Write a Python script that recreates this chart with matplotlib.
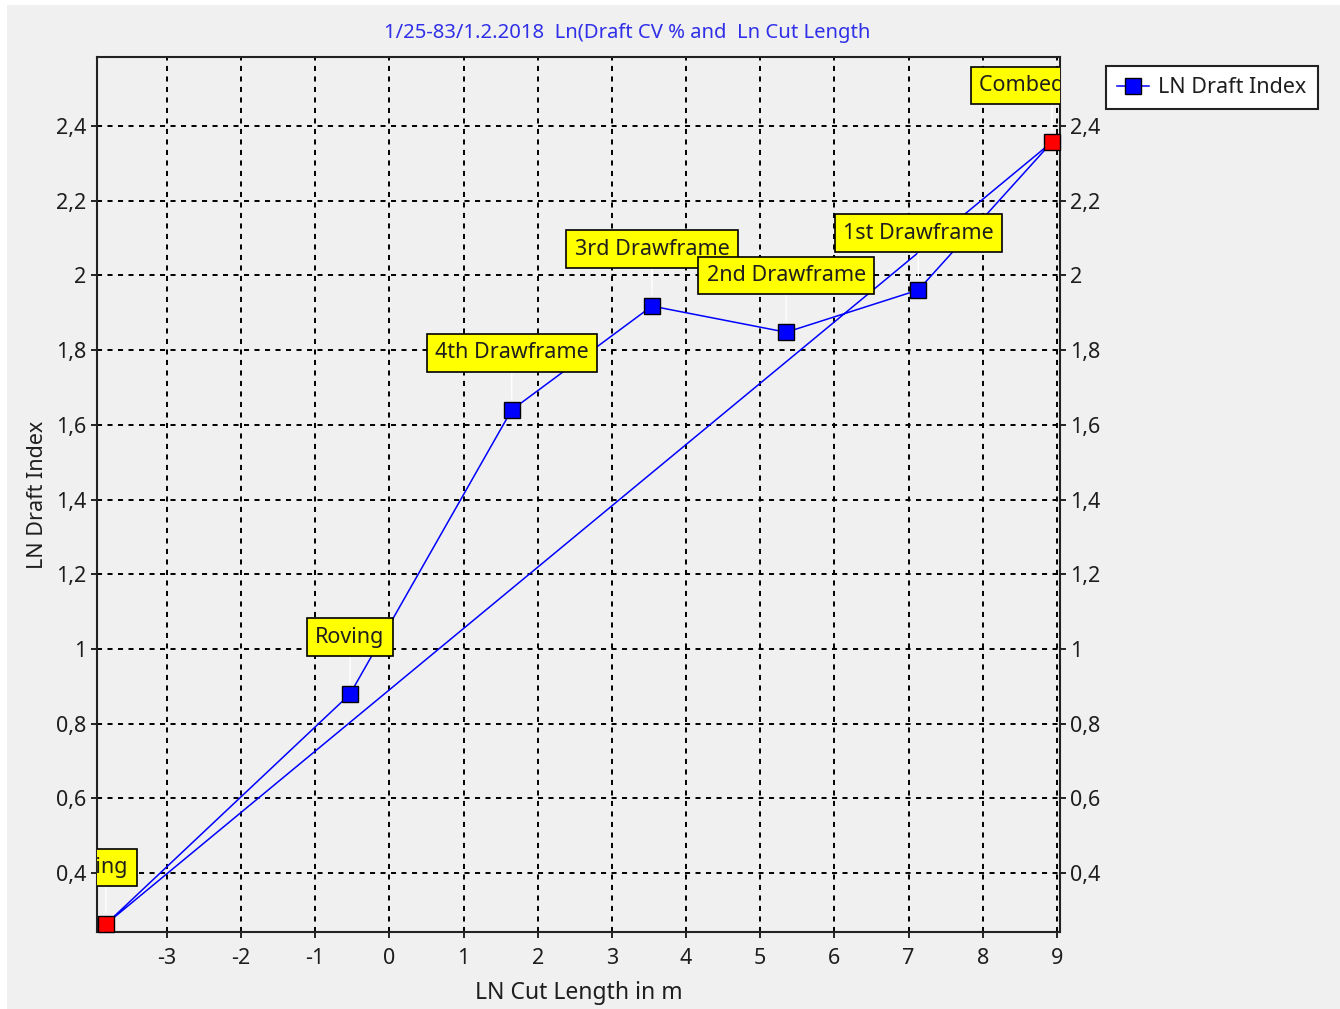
"""Ln draft index against ln cut length for each processing stage."""

import matplotlib

matplotlib.use("Agg")

import matplotlib.pyplot as plt
from matplotlib.lines import Line2D
from matplotlib.patches import Rectangle
from matplotlib.ticker import FuncFormatter, MultipleLocator

plt.rcParams["font.family"] = ["Noto Sans", "DejaVu Sans"]

TITLE = "1/25-83/1.2.2018  Ln(Draft CV % and  Ln Cut Length"
STAGES = ["Ring", "Roving", "4th Drawframe", "3rd Drawframe",
          "2nd Drawframe", "1st Drawframe", "Combed Sliver"]
LN_CUT_LENGTH = [-3.82, -0.53, 1.65, 3.54, 5.35, 7.13, 8.93]
LN_DRAFT_INDEX = [0.263, 0.879, 1.640, 1.918, 1.848, 1.961, 2.357]

BG = "#f0f0f0"
TEXT = "#1e1e1e"
FONT_SIZE = 15.5


def comma_fmt(value, _pos):
    return f"{value:g}".replace(".", ",")


def main() -> None:
    fig = plt.figure(figsize=(13.4, 10.09), dpi=100)
    fig.patch.set_facecolor("white")
    fig.patches.append(Rectangle((7 / 1340, 0), 1, 1 - 5 / 1009,
                                 transform=fig.transFigure, facecolor=BG,
                                 edgecolor="none", zorder=-10))

    ax = fig.add_axes([97 / 1340, 77 / 1009, 963 / 1340, 875 / 1009])
    ax.set_facecolor(BG)

    # closed path: through every stage, then back to the first one
    xs = LN_CUT_LENGTH + LN_CUT_LENGTH[:1]
    ys = LN_DRAFT_INDEX + LN_DRAFT_INDEX[:1]
    ax.plot(xs, ys, color="#0000ff", linewidth=1.1, zorder=3)

    last = len(STAGES) - 1
    for i, (name, x, y) in enumerate(zip(STAGES, LN_CUT_LENGTH, LN_DRAFT_INDEX)):
        face = "#ff0000" if i in (0, last) else "#0000ff"
        ax.plot(x, y, marker="s", markersize=11.5, markerfacecolor=face,
                markeredgecolor="black", markeredgewidth=1.0, zorder=4,
                clip_on=False)
        ax.annotate(name, xy=(x, y), xytext=(0, 41), textcoords="offset points",
                    ha="center", va="center", fontsize=FONT_SIZE, color=TEXT,
                    bbox=dict(boxstyle="square,pad=0.38", facecolor="#ffff00",
                              edgecolor="black", linewidth=1.2),
                    arrowprops=dict(arrowstyle="-", color="white", linewidth=1.0,
                                    shrinkA=0, shrinkB=8),
                    annotation_clip=False, clip_on=True, zorder=5)

    ax.set_xlim(-3.94, 9.04)
    ax.set_ylim(0.242, 2.585)
    ax.xaxis.set_major_locator(MultipleLocator(1))
    ax.yaxis.set_major_locator(MultipleLocator(0.2))
    ax.xaxis.set_major_formatter(FuncFormatter(comma_fmt))
    ax.yaxis.set_major_formatter(FuncFormatter(comma_fmt))
    ax.tick_params(axis="both", direction="out", length=4.5, width=1.2,
                   labelsize=FONT_SIZE, labelcolor=TEXT, pad=3)
    ax.tick_params(axis="x", pad=7)
    ax.tick_params(axis="y", right=True, labelright=True)
    ax.grid(True, color="black", linewidth=1.4, linestyle=(0, (2.6, 2.8)))
    for spine in ax.spines.values():
        spine.set_linewidth(1.5)
        spine.set_color("#222222")

    ax.set_xlabel("LN Cut Length in m", fontsize=16.5, color=TEXT, labelpad=9)
    ax.set_ylabel("LN Draft Index", fontsize=FONT_SIZE, color=TEXT, labelpad=6)
    fig.text(0.4684, 1 - 33 / 1009, TITLE, ha="center", va="center",
             fontsize=14.6, color="#3030e8")

    handle = Line2D([], [], color="#0000ff", linewidth=1.1, marker="s",
                    markersize=11.5, markerfacecolor="#0000ff",
                    markeredgecolor="black")
    legend = fig.legend([handle], ["LN Draft Index"], loc="upper left",
                        bbox_to_anchor=(1106 / 1340, 1 - 66 / 1009),
                        fontsize=FONT_SIZE, fancybox=False, framealpha=1,
                        facecolor="white", edgecolor="#222222",
                        handlelength=1.5, borderpad=0.52, handletextpad=0.4,
                        borderaxespad=0)
    legend.get_frame().set_linewidth(1.5)
    for text in legend.get_texts():
        text.set_color(TEXT)

    fig.savefig("out.png", dpi=100, facecolor=fig.get_facecolor())
    plt.close(fig)


if __name__ == "__main__":
    main()
